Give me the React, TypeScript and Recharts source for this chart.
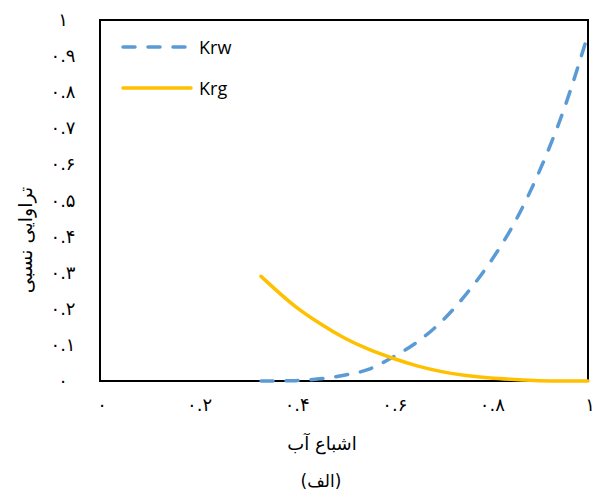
import React from "react";
import { LineChart, Line, XAxis, YAxis, Legend, ReferenceArea } from "recharts";

// اشباع آب (Sw)
const satValues = [0.33, 0.4, 0.45, 0.5, 0.55, 0.6, 0.65, 0.7, 0.75, 0.8, 0.85, 0.9, 0.95, 1.0];
const krwValues = [0, 0.001, 0.006, 0.016, 0.032, 0.066, 0.108, 0.165, 0.24, 0.33, 0.44, 0.58, 0.75, 0.96];
const krgValues = [0.29, 0.207, 0.16, 0.12, 0.088, 0.063, 0.042, 0.026, 0.015, 0.008, 0.004, 0.001, 0.0, 0.0];

const seriesOrder = ["Krw", "Krg"];
const xTicks = [0, 0.2, 0.4, 0.6, 0.8, 1];
const yTicks = [0, 0.1, 0.2, 0.3, 0.4, 0.5, 0.6, 0.7, 0.8, 0.9, 1];

const chartData = satValues.map((sw, i) => ({
  sw,
  Krw: krwValues[i],
  Krg: krgValues[i],
}));

const faDigits = "۰۱۲۳۴۵۶۷۸۹";
const toFa = (v: number) => String(v).replace(/\d/g, (d) => faDigits[Number(d)]);

const faFont = "'DejaVu Sans', sans-serif";

const XTick = (props: any) => {
  const { x, y, payload } = props;
  return (
    <text x={x + 2} y={y + 22} textAnchor="middle" fontSize={18} fontFamily={faFont} fill="#000">
      {toFa(payload.value)}
    </text>
  );
};

const YTick = (props: any) => {
  const { y, payload } = props;
  return (
    <text x={63} y={y + 6} textAnchor="middle" fontSize={18} fontFamily={faFont} fill="#000">
      {toFa(payload.value)}
    </text>
  );
};

const renderLegend = (props: any) => {
  const items = [...(props.payload || [])].sort(
    (a: any, b: any) => seriesOrder.indexOf(a.value) - seriesOrder.indexOf(b.value)
  );
  return (
    <div>
      {items.map((entry: any) => (
        <div key={entry.value} style={{ display: "flex", alignItems: "center", height: 41 }}>
          <svg width={80} height={10}>
            <line
              x1={4}
              y1={5}
              x2={72}
              y2={5}
              stroke={entry.color}
              strokeWidth={3.5}
              strokeLinecap="round"
              strokeDasharray={entry.value === "Krw" ? "12 13" : undefined}
            />
          </svg>
          <span style={{ fontFamily: "'Open Sans', sans-serif", fontSize: 18, color: "#000" }}>
            {entry.value}
          </span>
        </div>
      ))}
    </div>
  );
};

export default function App() {
  return (
    <div style={{ position: "relative", width: 595, height: 497, background: "#fff" }}>
      <style>{"body{margin:0;}"}</style>
      <LineChart
        width={595}
        height={497}
        data={chartData}
        margin={{ top: 20, right: 7, bottom: 76, left: 0 }}
      >
        <XAxis
          dataKey="sw"
          type="number"
          domain={[0, 1]}
          ticks={xTicks}
          tick={<XTick />}
          tickLine={false}
          axisLine={false}
          height={40}
        />
        <YAxis
          type="number"
          domain={[0, 1]}
          ticks={yTicks}
          tick={<YTick />}
          tickLine={false}
          axisLine={false}
          width={100}
        />
        <ReferenceArea
          x1={0}
          x2={1}
          y1={0}
          y2={1}
          fill="none"
          fillOpacity={0}
          stroke="#000"
          strokeWidth={2}
          ifOverflow="visible"
        />
        <Legend
          content={renderLegend}
          layout="vertical"
          verticalAlign="middle"
          align="center"
          wrapperStyle={{ top: 26, left: 119, width: 160 }}
        />
        <Line
          type="monotone"
          dataKey="Krw"
          name="Krw"
          stroke="#5B9BD5"
          strokeWidth={3.5}
          strokeDasharray="12 13"
          strokeLinecap="round"
          dot={false}
          isAnimationActive={false}
        />
        <Line
          type="monotone"
          dataKey="Krg"
          name="Krg"
          stroke="#FFC000"
          strokeWidth={3.5}
          strokeLinecap="round"
          dot={false}
          isAnimationActive={false}
        />
      </LineChart>
      <div
        style={{
          position: "absolute",
          left: 25,
          top: 240,
          transform: "translate(-50%, -50%) rotate(-90deg)",
          fontFamily: faFont,
          fontSize: 19,
          whiteSpace: "nowrap",
          direction: "rtl",
        }}
      >
        تراوایی نسبی
      </div>
      <div
        style={{
          position: "absolute",
          left: 322,
          top: 443,
          transform: "translate(-50%, -50%)",
          fontFamily: faFont,
          fontSize: 18,
          whiteSpace: "nowrap",
          direction: "rtl",
        }}
      >
        اشباع آب
      </div>
      <div
        style={{
          position: "absolute",
          left: 321,
          top: 481,
          transform: "translate(-50%, -50%)",
          fontFamily: faFont,
          fontSize: 17,
          whiteSpace: "nowrap",
          direction: "rtl",
        }}
      >
        (الف)
      </div>
    </div>
  );
}
